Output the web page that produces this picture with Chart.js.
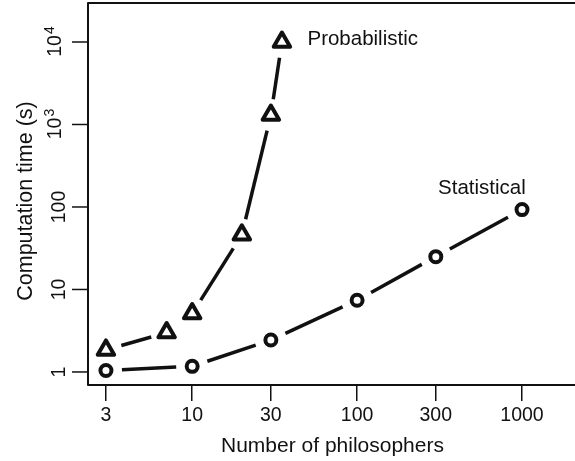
<!DOCTYPE html>
<html>
<head>
<meta charset="utf-8">
<script src="https://cdn.jsdelivr.net/npm/chart.js@4"></script>
<style>
  body { margin: 0; background: #fff; }
  canvas { display: block; }
</style>
</head>
<body>
<canvas id="myChart" width="575" height="461"></canvas>
<script>
// log-log plot, values
let philosophersStat = [3, 10, 30, 100, 300, 1000]
let timeStat = [1.04, 1.17, 2.44, 7.4, 25, 93]
let philosophersProb = [3, 7, 10, 20, 30, 35]
let timeProb = [1.85, 3.0, 5.1, 46, 1300, 10000]

let xTicks = [3, 10, 30, 100, 300, 1000]
let yTicks = [1, 10, 100, 1000, 10000]
let yTickLabels = [['1', ''], ['10', ''], ['100', ''], ['10', '3'], ['10', '4']]

let ink = '#111'
let font = 'Liberation Sans, Arial, Helvetica, sans-serif'

function toPoints(xs, ys) {
    let pts = []
    for (let i = 0; i < xs.length; i++) {
        pts.push({x: xs[i], y: ys[i]})
    }
    return pts
}

// R style lines: segments with a gap round every marker
let gappedLines = {
    id: 'gappedLines',
    beforeDatasetsDraw(chart) {
        let ctx = chart.ctx
        let gap = 16
        ctx.save()
        ctx.strokeStyle = ink
        ctx.lineWidth = 3.5
        ctx.lineCap = 'butt'
        chart.data.datasets.forEach((ds, i) => {
            let pts = chart.getDatasetMeta(i).data
            for (let j = 0; j < pts.length - 1; j++) {
                let a = pts[j], b = pts[j + 1]
                let dx = b.x - a.x, dy = b.y - a.y
                let len = Math.sqrt(dx * dx + dy * dy)
                if (len <= 2 * gap) continue
                let ux = dx / len, uy = dy / len
                ctx.beginPath()
                ctx.moveTo(a.x + ux * gap, a.y + uy * gap)
                ctx.lineTo(b.x - ux * gap, b.y - uy * gap)
                ctx.stroke()
            }
        })
        ctx.restore()
        ctx.lineJoin = 'round'
    }
}

let frame = {
    id: 'frame',
    afterDraw(chart) {
        let ctx = chart.ctx
        let area = chart.chartArea
        let xs = chart.scales.x
        let ys = chart.scales.y
        ctx.save()
        ctx.strokeStyle = ink
        ctx.fillStyle = ink
        // box
        ctx.lineWidth = 2
        ctx.beginPath()
        ctx.moveTo(area.right + 2, area.top)
        ctx.lineTo(area.left, area.top)
        ctx.lineTo(area.left, area.bottom)
        ctx.lineTo(area.right + 2, area.bottom)
        ctx.stroke()

        // y ticks and rotated labels
        ctx.lineWidth = 1.5
        for (let i = 0; i < yTicks.length; i++) {
            let py = ys.getPixelForValue(yTicks[i])
            ctx.beginPath()
            ctx.moveTo(area.left - 16, py)
            ctx.lineTo(area.left, py)
            ctx.stroke()

            let base = yTickLabels[i][0]
            let sup = yTickLabels[i][1]
            ctx.save()
            ctx.textBaseline = 'alphabetic'
            if (sup === '') {
                ctx.translate(65, py)
                ctx.rotate(-Math.PI / 2)
                ctx.font = '19.5px ' + font
                ctx.textAlign = 'center'
                ctx.fillText(base, 0, 0)
            } else {
                ctx.translate(61, py)
                ctx.rotate(-Math.PI / 2)
                ctx.font = '19.5px ' + font
                let wb = ctx.measureText(base).width
                ctx.font = '14px ' + font
                let we = ctx.measureText(sup).width
                let start = -(wb + we) / 2
                ctx.textAlign = 'left'
                ctx.font = '19.5px ' + font
                ctx.fillText(base, start, 0)
                ctx.font = '14px ' + font
                ctx.fillText(sup, start + wb + 1, -7)
            }
            ctx.restore()
        }

        // axis titles
        ctx.font = '21px ' + font
        ctx.textAlign = 'center'
        ctx.textBaseline = 'alphabetic'
        ctx.fillText('Number of philosophers', (area.left + area.right) / 2 + 1, 452)
        ctx.save()
        ctx.translate(32, (area.top + area.bottom) / 2 + 7)
        ctx.rotate(-Math.PI / 2)
        ctx.font = '21.5px ' + font
        ctx.fillText('Computation time (s)', 0, 0)
        ctx.restore()

        // curve labels placed in data coordinates
        ctx.font = '20.5px ' + font
        ctx.textAlign = 'left'
        ctx.fillText('Probabilistic', xs.getPixelForValue(50), ys.getPixelForValue(9200))
        ctx.textAlign = 'center'
        ctx.fillText('Statistical', xs.getPixelForValue(571), ys.getPixelForValue(144))
        ctx.restore()
    }
}

let chart = new Chart('myChart', {
    type: 'scatter',
    data: {
        datasets: [{
            label: 'Probabilistic',
            data: toPoints(philosophersProb, timeProb),
            pointStyle: 'triangle',
            pointRadius: 9.5,
            pointHoverRadius: 9.5,
            pointBorderWidth: 4,
            pointBorderColor: ink,
            pointBackgroundColor: 'rgba(0,0,0,0)',
            showLine: false,
            clip: false
        }, {
            label: 'Statistical',
            data: toPoints(philosophersStat, timeStat),
            pointStyle: 'circle',
            pointRadius: 5.5,
            pointHoverRadius: 5.5,
            pointBorderWidth: 4,
            pointBorderColor: ink,
            pointBackgroundColor: 'rgba(0,0,0,0)',
            showLine: false,
            clip: false
        }]
    },
    options: {
        responsive: false,
        animation: false,
        events: [],
        layout: {
            autoPadding: false,
            padding: {top: 3, right: 0, bottom: 0, left: 0}
        },
        plugins: {
            legend: {display: false},
            tooltip: {enabled: false},
            title: {display: false}
        },
        scales: {
            x: {
                type: 'logarithmic',
                min: 2.335,
                max: 2095,
                bounds: 'data',
                afterBuildTicks: s => { s.ticks = xTicks.map(v => ({value: v})) },
                afterFit: s => { s.height = 76 },
                border: {display: false},
                grid: {
                    display: true,
                    drawOnChartArea: false,
                    drawTicks: true,
                    tickLength: 16,
                    color: ink,
                    lineWidth: 1.5
                },
                ticks: {
                    autoSkip: false,
                    maxRotation: 0,
                    minRotation: 0,
                    padding: 3,
                    color: ink,
                    font: {family: font, size: 19.5},
                    callback: v => String(v)
                }
            },
            y: {
                type: 'logarithmic',
                min: 0.695,
                max: 29700,
                bounds: 'data',
                afterFit: s => { s.width = 88 },
                border: {display: false},
                grid: {display: false},
                ticks: {display: false}
            }
        }
    },
    plugins: [gappedLines, frame]
})
</script>
</body>
</html>
